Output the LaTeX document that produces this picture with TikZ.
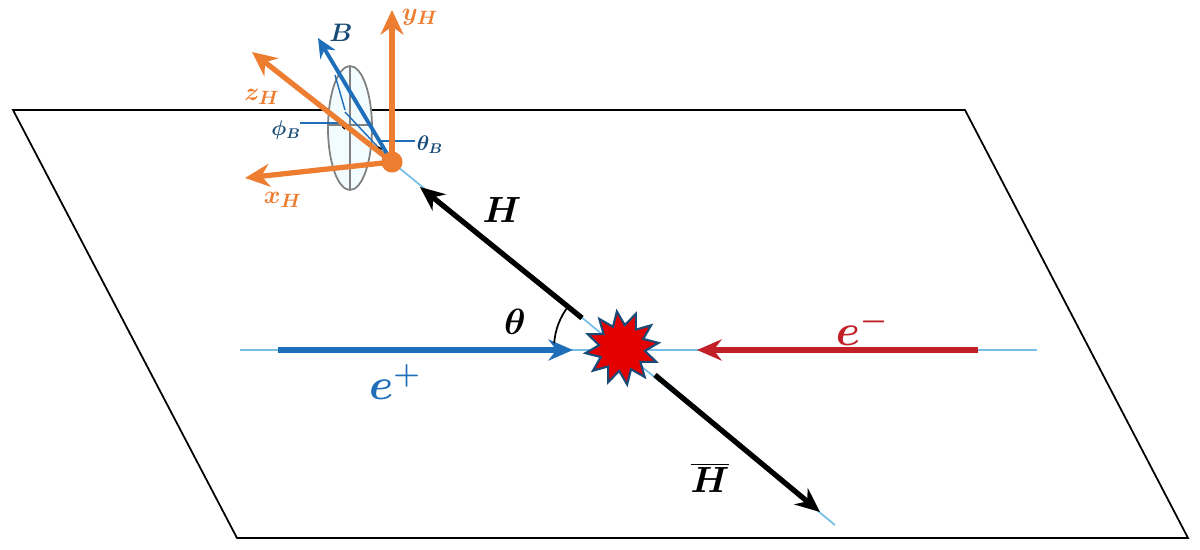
\documentclass[tikz,border=0pt]{standalone}
\usetikzlibrary{shapes.geometric,arrows.meta}
\begin{document}
\begin{tikzpicture}[x=0.02cm,y=-0.02cm]
\definecolor{or}{RGB}{237,125,49}\definecolor{bl}{RGB}{31,110,185}\definecolor{rd}{RGB}{192,32,38}\definecolor{lb}{RGB}{120,190,230}\definecolor{db}{RGB}{25,75,120}
\tikzset{big/.style={font=\fontsize{20}{24}\selectfont\boldmath},
 huge/.style={font=\fontsize{24}{28}\selectfont\boldmath},
 mid/.style={font=\fontsize{15}{18}\selectfont\boldmath},
 sm/.style={font=\fontsize{12}{14}\selectfont\boldmath},
 axis/.style={draw=or,line width=3pt,-{Stealth[length=14pt,width=13pt]}}}
\useasboundingbox (0,0) rectangle (1200,549);
\draw[line width=1pt] (13,110) -- (965,110) -- (1188,538) -- (237,538) -- cycle;
\coordinate (O) at (392,162); \coordinate (C) at (622,348);
\draw[lb, line width=1pt] (O) -- (835,525);
\draw[lb, line width=1pt] (240,350) -- (1037,350);
\draw[line width=3pt,-{Stealth[length=14pt,width=12pt]}] (582,318) -- (420,187);
\draw[line width=3pt,-{Stealth[length=14pt,width=12pt]}] (655,375) -- (820,512);
\draw[bl,line width=3.5pt,-{Stealth[length=14pt,width=12pt]}] (278,350) -- (573,350);
\draw[rd,line width=3.5pt,-{Stealth[length=14pt,width=12pt]}] (978,350) -- (697,350);
\draw[line width=1pt] (C) ++(-142:68) arc[start angle=-142,end angle=-176,radius=68];
\node[star,star points=12,star point ratio=1.6,fill=red!90!black,draw=db,line width=1.2pt,minimum size=42pt,inner sep=0,rotate=8] (X) at (C) {};
\node[big] at (515,322) {$\theta$};
\node[huge,text=bl] at (395,382) {$e^+$};
\node[huge,text=rd] at (862,328) {$e^-$};
\node[big] at (502,210) {$H$};
\node[big] at (710,478) {$\overline{H}$};
% ellipse
\draw[gray,fill=cyan!5,line width=1pt] (350,128) ellipse[x radius=22,y radius=62];
\draw[gray,line width=1pt] (350,66) -- (350,190) (329,125) -- (372,125);
\draw[bl,line width=0.8pt] (O) -- (345,112);
\draw[bl,line width=0.8pt] (345,110) -- (335,75);
\draw[bl,line width=0.8pt] (300,123) -- (343,123) (378,141) -- (415,141);
\draw[line width=0.8pt] (342,124) arc[start angle=180,end angle=120,radius=6];
\draw[line width=0.8pt] (378,147) arc[start angle=125,end angle=95,radius=14];
\draw[axis] (O) -- (392,10);
\draw[axis] (O) -- (252,52);
\draw[axis] (O) -- (245,178);
\draw[draw=bl,line width=2.2pt,-{Stealth[length=11pt,width=10pt]}] (O) -- (318,38);
\fill[or] (O) circle (6pt);
\node[mid,text=or] at (420,17) {$y_H$};
\node[mid,text=or] at (262,97) {$z_H$};
\node[mid,text=or] at (283,200) {$x_H$};
\node[mid,text=db] at (341,33) {$B$};
\node[sm,text=db] at (286,130) {$\phi_B$};
\node[sm,text=db] at (430,145) {$\theta_B$};
\end{tikzpicture}
\end{document}
